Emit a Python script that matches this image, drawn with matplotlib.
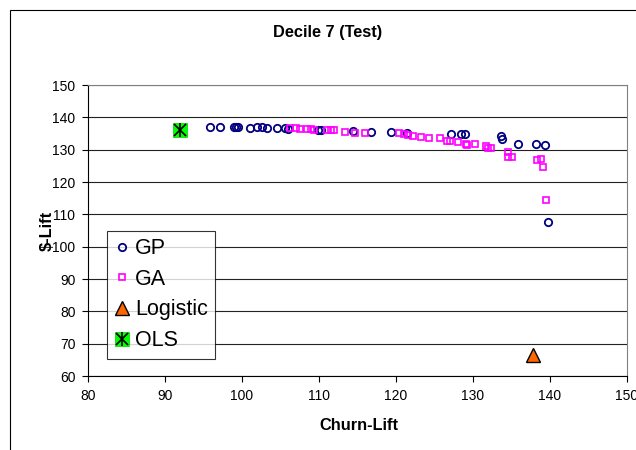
import matplotlib
matplotlib.use('Agg')
from matplotlib import pyplot as plt
from matplotlib.patches import Rectangle
from matplotlib.legend_handler import HandlerTuple

plt.rcParams['font.family'] = ['Liberation Sans', 'DejaVu Sans']

# GP runs (churn-lift, $-lift)
gp_x = [95.9, 97.2, 99.0, 99.2, 99.5, 101.1, 101.9, 102.6, 103.3, 104.6, 105.6, 106.0,
        109.9, 110.3, 114.4, 116.7, 119.4, 121.4, 127.1, 128.4, 128.9, 133.7, 133.8,
        135.9, 138.2, 139.3, 139.8]
gp_y = [137.0, 137.0, 137.0, 137.0, 137.0, 136.8, 136.9, 136.9, 136.8, 136.7, 136.6, 136.5,
        136.2, 136.1, 135.7, 135.6, 135.4, 135.1, 134.9, 134.8, 134.8, 134.3, 133.4,
        131.7, 131.7, 131.4, 107.7]

# GA runs
ga_x = [106.2, 107.0, 107.5, 108.4, 108.9, 109.4, 111.0, 111.5, 112.0, 113.4, 114.7, 116.0,
        120.4, 121.0, 121.6, 122.2, 123.2, 124.3, 125.7, 126.6, 127.0, 128.1, 129.1, 129.2,
        130.3, 131.7, 132.0, 132.4, 134.5, 134.6, 135.1, 138.3, 138.8, 139.1, 139.5]
ga_y = [136.6, 136.6, 136.5, 136.3, 136.3, 136.2, 136.1, 136.0, 136.0, 135.6, 135.3, 135.3,
        135.1, 134.8, 134.5, 134.2, 134.0, 133.5, 133.5, 132.8, 132.7, 132.5, 131.7, 131.4,
        131.7, 131.1, 130.4, 130.6, 129.4, 127.8, 127.8, 126.8, 127.0, 124.5, 114.4]

logistic_x = [137.8]
logistic_y = [66.5]
ols_x = [92.0]
ols_y = [136.1]

x_ticks = [80, 90, 100, 110, 120, 130, 140, 150]
y_ticks = [60, 70, 80, 90, 100, 110, 120, 130, 140, 150]

W, H = 636, 450
fig = plt.figure(figsize=(W / 100, H / 100), dpi=100)
fig.patch.set_facecolor('white')

# chart area border (runs off the right and bottom of the picture)
fig.patches.append(Rectangle((10 / W, -0.1), 1.2, 1.1 - 10 / H, transform=fig.transFigure,
                             fill=False, edgecolor='black', linewidth=0.8))

ax = fig.add_axes([88 / W, 1 - 376 / H, (627 - 88) / W, (376 - 85) / H])
ax.set_xlim(80, 150)
ax.set_ylim(60, 150)
ax.set_xticks(x_ticks)
ax.set_yticks(y_ticks)
ax.tick_params(direction='out', length=4, width=0.8, labelsize=10, pad=5)
ax.yaxis.grid(True, color='#222222', linewidth=0.8)
ax.set_axisbelow(True)
for s in ['top', 'right']:
    ax.spines[s].set_color('#808080')
for s in ['left', 'bottom']:
    ax.spines[s].set_color('black')
for s in ax.spines.values():
    s.set_linewidth(0.8)

gp, = ax.plot(gp_x, gp_y, 'o', ms=5.3, mfc='none', mec='#000080', mew=1.3, clip_on=False)
ga, = ax.plot(ga_x, ga_y, 's', ms=4.4, mfc='none', mec='#FF00FF', mew=1.2, clip_on=False)
lg, = ax.plot(logistic_x, logistic_y, '^', ms=9.5, mfc='#FF6600', mec='black', mew=1.0)
ols_sq, = ax.plot(ols_x, ols_y, 's', ms=9.5, mfc='#00FF00', mec='#00CC00', mew=0.5)
ols_x1, = ax.plot(ols_x, ols_y, 'x', ms=8, mec='black', mew=1.2)
ols_x2, = ax.plot(ols_x, ols_y, '|', ms=9.5, mec='black', mew=1.2)

fig.text(328 / W, 1 - 32 / H, 'Decile 7 (Test)', ha='center', va='center',
         fontsize=11.8, fontweight='bold')
fig.text(359 / W, 1 - 425 / H, 'Churn-Lift', ha='center', va='center',
         fontsize=11.8, fontweight='bold')
fig.text(47 / W, 1 - 231 / H, r'\$-Lift', ha='center', va='center', rotation=90,
         fontsize=11.8, fontweight='bold')

leg = ax.legend([gp, ga, lg, (ols_sq, ols_x1, ols_x2)], ['GP', 'GA', 'Logistic', 'OLS'],
                handler_map={tuple: HandlerTuple(ndivide=1)},
                loc='upper left', bbox_to_anchor=(0.035, 0.5), borderaxespad=0,
                fontsize=15.5, frameon=True, fancybox=False, handlelength=0.7,
                handletextpad=0.25, labelspacing=0.45, borderpad=0.35, markerscale=1.0)
leg.get_frame().set_edgecolor('black')
leg.get_frame().set_linewidth(0.8)

fig.savefig('out.png', dpi=100)
